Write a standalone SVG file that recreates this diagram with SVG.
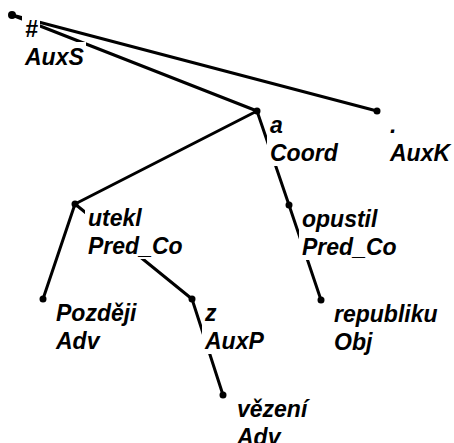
<svg xmlns="http://www.w3.org/2000/svg" width="454" height="443" viewBox="0 0 454 443">
<style>
.e{stroke:#000;stroke-width:3;stroke-linecap:round;fill:none}
.d{fill:#000}
.bg{fill:#fff}
text{font-family:"Liberation Sans",Arial,sans-serif;font-size:23px;font-style:italic;font-weight:bold;fill:#000}
</style>
<rect width="454" height="443" fill="#fff"/>
<g id="connectors">
<line class="e" x1="12" y1="15" x2="257" y2="111"/>
<line class="e" x1="12" y1="15" x2="377" y2="111"/>
<line class="e" x1="257" y1="111" x2="75" y2="204"/>
<line class="e" x1="257" y1="111" x2="289" y2="205"/>
<line class="e" x1="75" y1="204" x2="43" y2="299"/>
<line class="e" x1="75" y1="204" x2="192" y2="299"/>
<line class="e" x1="289" y1="205" x2="321" y2="300"/>
<line class="e" x1="192" y1="299" x2="223" y2="395"/>
</g>
<g id="n-root">
<circle class="d" cx="12" cy="15" r="4"/>
<rect class="bg" x="22" y="14" width="18" height="28"/>
<rect class="bg" x="22" y="42" width="64" height="28"/>
<text x="25" y="37">#</text>
<text x="25" y="65">AuxS</text>
</g>
<g id="n-a">
<circle class="d" cx="257" cy="111" r="3.5"/>
<rect class="bg" x="267" y="110" width="18" height="28"/>
<rect class="bg" x="267" y="138" width="73" height="28"/>
<text x="270" y="133">a</text>
<text x="270" y="161">Coord</text>
</g>
<g id="n-auxk">
<circle class="d" cx="377" cy="111" r="3.5"/>
<rect class="bg" x="387" y="110" width="12" height="28"/>
<rect class="bg" x="387" y="138" width="65" height="28"/>
<text x="390" y="133">.</text>
<text x="390" y="161">AuxK</text>
</g>
<g id="n-utekl">
<circle class="d" cx="75" cy="204" r="3.5"/>
<rect class="bg" x="85" y="203" width="59" height="28"/>
<rect class="bg" x="85" y="231" width="100" height="28"/>
<text x="88" y="226">utekl</text>
<text x="88" y="254">Pred_Co</text>
</g>
<g id="n-opustil">
<circle class="d" cx="289" cy="205" r="3.5"/>
<rect class="bg" x="299" y="204" width="81" height="28"/>
<rect class="bg" x="299" y="232" width="100" height="28"/>
<text x="302" y="227">opustil</text>
<text x="302" y="255">Pred_Co</text>
</g>
<g id="n-pozdeji">
<circle class="d" cx="43" cy="299" r="3.5"/>
<rect class="bg" x="53" y="298" width="86" height="28"/>
<rect class="bg" x="53" y="326" width="49" height="28"/>
<text x="56" y="321">Později</text>
<text x="56" y="349">Adv</text>
</g>
<g id="n-z">
<circle class="d" cx="192" cy="299" r="3.5"/>
<rect class="bg" x="202" y="298" width="17" height="28"/>
<rect class="bg" x="202" y="326" width="64" height="28"/>
<text x="205" y="321">z</text>
<text x="205" y="349">AuxP</text>
</g>
<g id="n-republiku">
<circle class="d" cx="321" cy="300" r="3.5"/>
<rect class="bg" x="331" y="299" width="109" height="28"/>
<rect class="bg" x="331" y="327" width="44" height="28"/>
<text x="334" y="322">republiku</text>
<text x="334" y="350">Obj</text>
</g>
<g id="n-vezeni">
<circle class="d" cx="223" cy="395" r="3.5"/>
<rect class="bg" x="234" y="394" width="76" height="28"/>
<rect class="bg" x="234" y="422" width="49" height="28"/>
<text x="237" y="417">vězení</text>
<text x="237" y="445">Adv</text>
</g>
</svg>
